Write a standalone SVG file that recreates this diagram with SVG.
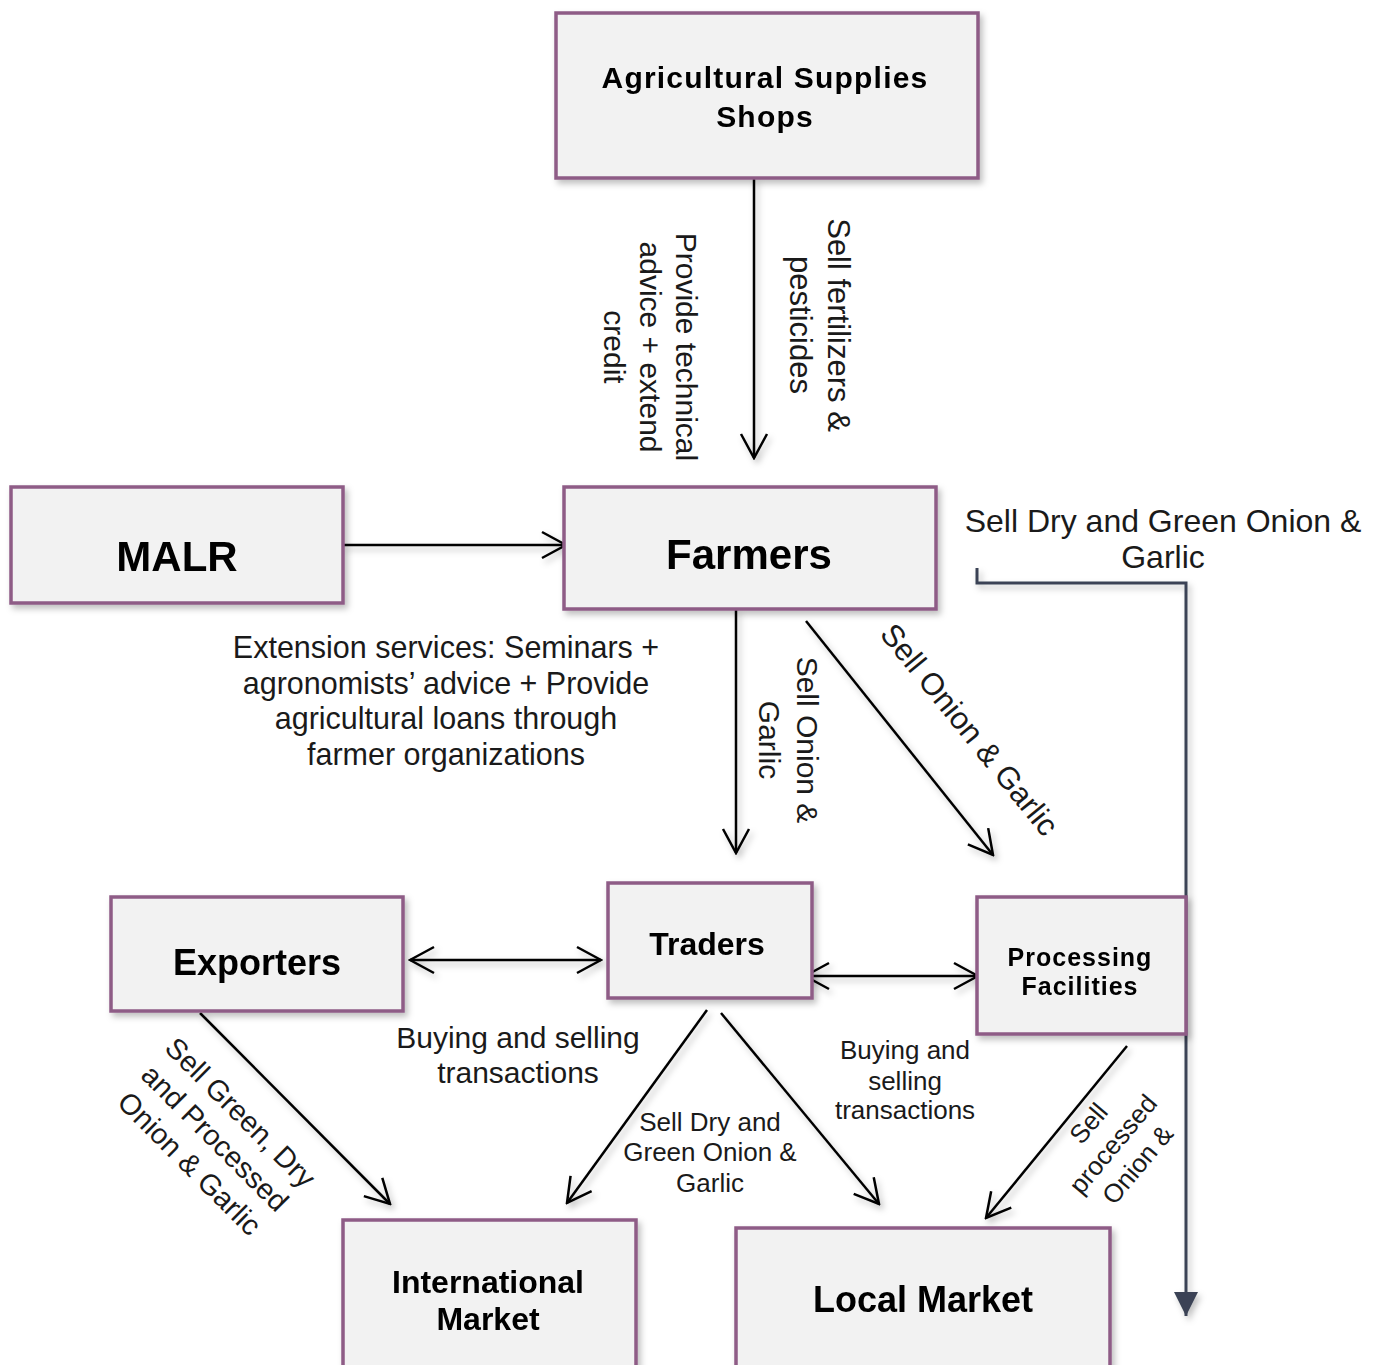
<svg xmlns="http://www.w3.org/2000/svg" width="1383" height="1365" viewBox="0 0 1383 1365">
<style>
.box{fill:#f2f2f2;stroke:#8e5b86;stroke-width:3.5}
.t{font-family:"Liberation Sans",Arial,sans-serif;font-weight:bold;fill:#000;text-anchor:middle}
.l{font-family:"Liberation Sans",Arial,sans-serif;fill:#1a1a1a;text-anchor:middle}
.c{stroke:#000;stroke-width:2.5;fill:none}
</style>
<defs>
<filter id="sh" x="-20%" y="-20%" width="140%" height="140%">
<feDropShadow dx="3" dy="4" stdDeviation="3" flood-color="#000" flood-opacity="0.25"/>
</filter>
<marker id="ah" viewBox="0 0 28 30" refX="26" refY="15" markerWidth="28" markerHeight="30" markerUnits="userSpaceOnUse" orient="auto-start-reverse">
<path d="M2,2 L26,15 L2,28" fill="none" stroke="#000" stroke-width="2.5"/>
</marker>
<marker id="fh" viewBox="0 0 26 26" refX="13" refY="24" markerWidth="26" markerHeight="26" markerUnits="userSpaceOnUse" orient="0">
<path d="M1,0 L25,0 L13,24 Z" fill="#3b4354"/>
</marker>
</defs>
<rect width="1383" height="1365" fill="#fff"/>
<g id="connectors" filter="url(#sh)">
<line class="c" x1="754" y1="178" x2="754" y2="458" marker-end="url(#ah)"/>
<line class="c" x1="343" y1="545" x2="566" y2="545" marker-end="url(#ah)"/>
<line class="c" x1="736" y1="609" x2="736" y2="853" marker-end="url(#ah)"/>
<line class="c" x1="806" y1="621" x2="993" y2="855" marker-end="url(#ah)"/>
<line class="c" x1="410" y1="960" x2="601" y2="960" marker-start="url(#ah)" marker-end="url(#ah)"/>
<line class="c" x1="805" y1="976" x2="978" y2="976" marker-start="url(#ah)" marker-end="url(#ah)"/>
<line class="c" x1="707" y1="1010" x2="567" y2="1203" marker-end="url(#ah)"/>
<line class="c" x1="721" y1="1013" x2="879" y2="1204" marker-end="url(#ah)"/>
<line class="c" x1="200" y1="1013" x2="390" y2="1204" marker-end="url(#ah)"/>
<line class="c" x1="1127" y1="1046" x2="986" y2="1218" marker-end="url(#ah)"/>
<polyline points="977,568 977,583 1186,583 1186,1316" fill="none" stroke="#3b4354" stroke-width="3" marker-end="url(#fh)"/>
</g>
<g id="agri" filter="url(#sh)">
<rect class="box" x="556" y="13" width="422" height="165"/>
<text class="t" font-size="30" x="765" y="88" letter-spacing="1.2">Agricultural Supplies</text>
<text class="t" font-size="30" x="765" y="127" letter-spacing="1.2">Shops</text>
</g>
<g id="malr" filter="url(#sh)">
<rect class="box" x="11" y="487" width="332" height="116"/>
<text class="t" font-size="42" x="177" y="571">MALR</text>
</g>
<g id="farmers" filter="url(#sh)">
<rect class="box" x="564" y="487" width="372" height="122"/>
<text class="t" font-size="42" x="749" y="569">Farmers</text>
</g>
<g id="exporters" filter="url(#sh)">
<rect class="box" x="111" y="897" width="292" height="114"/>
<text class="t" font-size="36" x="257" y="975">Exporters</text>
</g>
<g id="traders" filter="url(#sh)">
<rect class="box" x="608" y="883" width="204" height="115"/>
<text class="t" font-size="32" x="707" y="955">Traders</text>
</g>
<g id="processing" filter="url(#sh)">
<rect class="box" x="977" y="897" width="209" height="137"/>
<text class="t" font-size="25" x="1080" y="966" letter-spacing="1">Processing</text>
<text class="t" font-size="25" x="1080" y="995" letter-spacing="1">Facilities</text>
</g>
<g id="international" filter="url(#sh)">
<rect class="box" x="343" y="1220" width="293" height="160"/>
<text class="t" font-size="32" x="488" y="1293">International</text>
<text class="t" font-size="32" x="488" y="1330">Market</text>
</g>
<g id="local" filter="url(#sh)">
<rect class="box" x="736" y="1228" width="374" height="160"/>
<text class="t" font-size="36" x="923" y="1312">Local Market</text>
</g>
<g id="labels">
<text class="l" font-size="30" transform="translate(650,347) rotate(90)"><tspan x="0" y="-26">Provide technical</tspan><tspan x="0" y="10">advice + extend</tspan><tspan x="0" y="46">credit</tspan></text>
<text class="l" font-size="31" transform="translate(819,325) rotate(90)"><tspan x="0" y="-9">Sell fertilizers &amp;</tspan><tspan x="0" y="29">pesticides</tspan></text>
<text class="l" font-size="30" transform="translate(788,740) rotate(90)"><tspan x="0" y="-9">Sell Onion &amp;</tspan><tspan x="0" y="29">Garlic</tspan></text>
<text class="l" font-size="31" transform="translate(969,730) rotate(51)" y="10">Sell Onion &amp; Garlic</text>
<text class="l" font-size="32"><tspan x="1163" y="532">Sell Dry and Green Onion &amp;</tspan><tspan x="1163" y="568">Garlic</tspan></text>
<text class="l" font-size="30.5"><tspan x="446" y="658">Extension services: Seminars +</tspan><tspan x="446" y="694">agronomists’ advice + Provide</tspan><tspan x="446" y="729">agricultural loans through</tspan><tspan x="446" y="765">farmer organizations</tspan></text>
<text class="l" font-size="30"><tspan x="518" y="1048">Buying and selling</tspan><tspan x="518" y="1083">transactions</tspan></text>
<text class="l" font-size="26"><tspan x="905" y="1059">Buying and</tspan><tspan x="905" y="1090">selling</tspan><tspan x="905" y="1119">transactions</tspan></text>
<text class="l" font-size="26"><tspan x="710" y="1131">Sell Dry and</tspan><tspan x="710" y="1161">Green Onion &amp;</tspan><tspan x="710" y="1192">Garlic</tspan></text>
<text class="l" font-size="29" transform="translate(215,1138) rotate(45)"><tspan x="0" y="-26">Sell Green, Dry</tspan><tspan x="0" y="10">and Processed</tspan><tspan x="0" y="46">Onion &amp; Garlic</tspan></text>
<text class="l" font-size="26" transform="translate(1113,1144) rotate(-50)"><tspan x="0" y="-23">Sell</tspan><tspan x="0" y="9">processed</tspan><tspan x="0" y="41">Onion &amp;</tspan></text>
</g>
</svg>
